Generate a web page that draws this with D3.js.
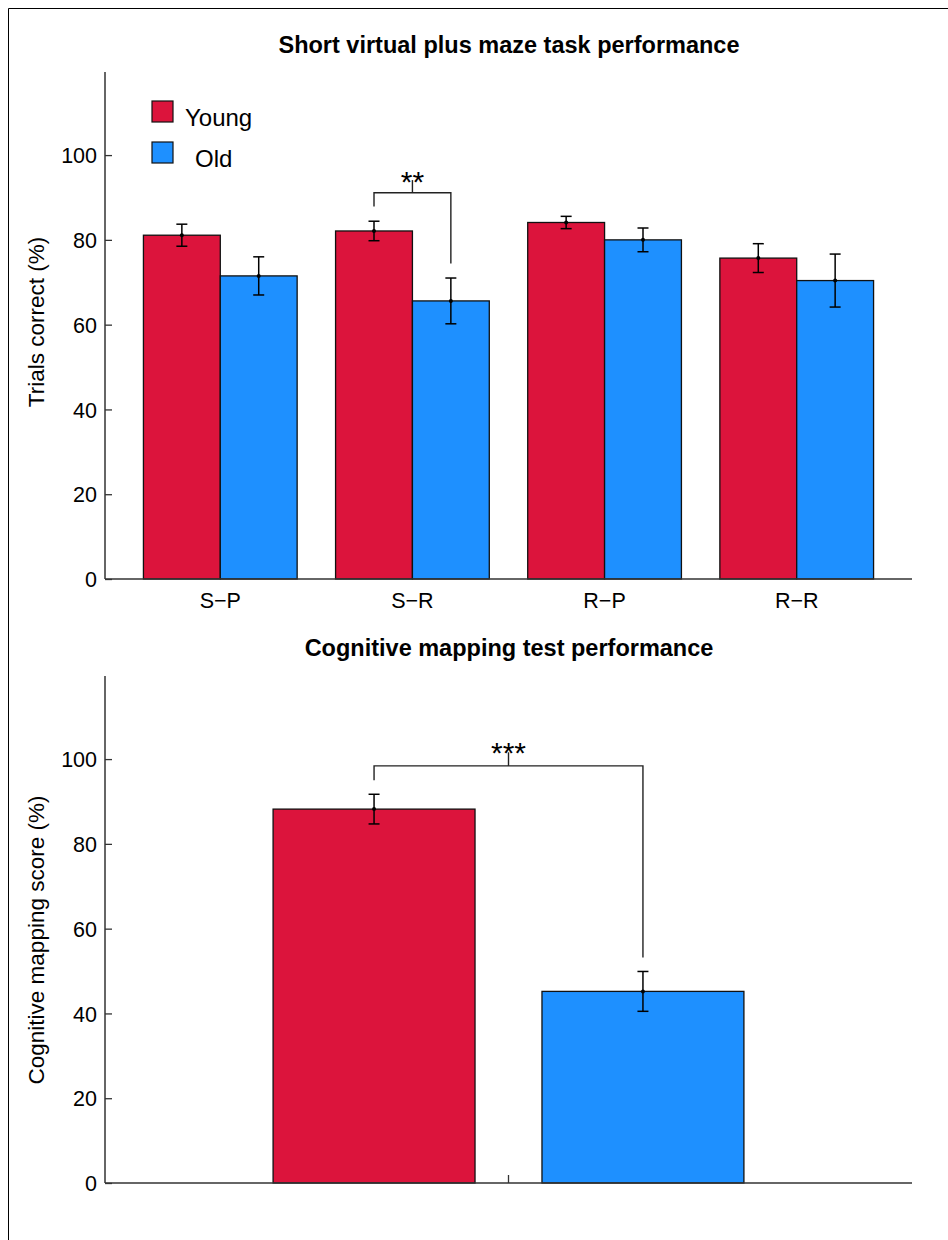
<!DOCTYPE html>
<html><head><meta charset="utf-8">
<script src="https://cdn.jsdelivr.net/npm/d3@7"></script>
<style>body{margin:0;background:#fff;}svg{display:block;font-family:"Liberation Sans",Arial,sans-serif;}</style>
</head><body>
<script>
// Data
const categories = ["S\u2212P", "S\u2212R", "R\u2212P", "R\u2212R"];
const groups = ["Young", "Old"];
const youngMeans = [81.1, 82.1, 84.1, 75.7];
const youngErr = [2.6, 2.3, 1.45, 3.4];
const oldMeans = [71.5, 65.6, 80.0, 70.4];
const oldErr = [4.5, 5.4, 2.8, 6.25];
const cogMeans = [88.2, 45.2];
const cogErr = [3.5, 4.7];
const yTicks = [0, 20, 40, 60, 80, 100];
const colors = {Young: "#DC143C", Old: "#1E90FF"};

const W = 948, H = 1240;
const svg = d3.select("body").append("svg").attr("width", W).attr("height", H);

// frame
svg.append("path").attr("d", `M8.5,${H} V8.5 H${W}`).attr("fill","none").attr("stroke","#000").attr("stroke-width",1);

function yAxis(g, y, x0) {
  const ax = g.append("g").attr("transform", `translate(${x0},0)`)
    .call(d3.axisRight(y).tickValues(yTicks).tickSize(7).tickFormat(""));
  ax.select(".domain").remove();
  ax.selectAll("line").attr("stroke","#333").attr("stroke-width",1.3);
  g.append("line").attr("x1",x0).attr("x2",x0).attr("y1",y.range()[1]).attr("y2",y.range()[0])
    .attr("stroke","#333").attr("stroke-width",1.5);
  g.selectAll(".ytl").data(yTicks).enter().append("text")
    .attr("x", x0-8).attr("y", d=>y(d)).attr("dy","0.38em").attr("text-anchor","end")
    .attr("font-size",21.5).text(d=>d);
}

function errBar(g, x, y, m, e) {
  g.append("line").attr("x1",x).attr("x2",x).attr("y1",y(m+e)).attr("y2",y(m-e)).attr("stroke","#000").attr("stroke-width",1.5);
  [m+e, m-e].forEach(v=>g.append("line").attr("x1",x-5.5).attr("x2",x+5.5).attr("y1",y(v)).attr("y2",y(v)).attr("stroke","#000").attr("stroke-width",1.5));
  g.append("circle").attr("cx",x).attr("cy",y(m)).attr("r",2).attr("fill","#000");
}

// ---------- Top chart ----------
const gTop = svg.append("g");
const yT = d3.scaleLinear().domain([0, 119.6]).range([579, 72]);
const x0T = d3.scaleBand().domain(categories).range([105, 912]).paddingInner(0.2).paddingOuter(0.2);
const x1T = d3.scaleBand().domain(groups).range([0, x0T.bandwidth()]);

gTop.append("text").attr("x", 509).attr("y", 53).attr("text-anchor","middle")
  .attr("font-size",23.5).attr("font-weight","bold").text("Short virtual plus maze task performance");

const dataT = categories.map((c,i)=>({c, vals:[
  {g:"Young", m:youngMeans[i], e:youngErr[i]},
  {g:"Old", m:oldMeans[i], e:oldErr[i]}]}));

dataT.forEach(d=>{
  d.vals.forEach(v=>{
    const x = x0T(d.c) + x1T(v.g);
    gTop.append("rect").attr("x",x).attr("y",yT(v.m)).attr("width",x1T.bandwidth()).attr("height",yT(0)-yT(v.m))
      .attr("fill",colors[v.g]).attr("stroke","#111").attr("stroke-width",1.3);
  });
});
dataT.forEach(d=>{
  d.vals.forEach(v=>{
    const cx = x0T(d.c) + x1T(v.g) + x1T.bandwidth()/2;
    errBar(gTop, cx, yT, v.m, v.e);
  });
});
// x axis
gTop.append("line").attr("x1",105).attr("x2",912).attr("y1",yT(0)).attr("y2",yT(0)).attr("stroke","#333").attr("stroke-width",1.5);
gTop.selectAll(".xtl").data(categories).enter().append("text")
  .attr("x", d=>x0T(d)+x0T.bandwidth()/2).attr("y", 608).attr("text-anchor","middle").attr("font-size",21.5).text(d=>d);
yAxis(gTop, yT, 105);
gTop.append("text").attr("transform","translate(44,322) rotate(-90)").attr("text-anchor","middle").attr("font-size",22.5).text("Trials correct (%)");

// significance bracket S-R
{
  const xa = x0T(categories[1]) + x1T("Young") + x1T.bandwidth()/2;
  const xb = x0T(categories[1]) + x1T("Old") + x1T.bandwidth()/2;
  const yb = yT(91.1);
  gTop.append("path").attr("d",`M${xa},${yT(87.9)} V${yb} H${xb} V${yT(74.4)}`).attr("fill","none").attr("stroke","#222").attr("stroke-width",1.4);
  gTop.append("line").attr("x1",(xa+xb)/2).attr("x2",(xa+xb)/2).attr("y1",yb).attr("y2",yT(94.1)).attr("stroke","#222").attr("stroke-width",1.4);
  gTop.append("text").attr("x",(xa+xb)/2).attr("y",yT(94.1)+12).attr("text-anchor","middle").attr("font-size",30).text("**");
}

// legend
groups.forEach((g,i)=>{
  gTop.append("rect").attr("x",152).attr("y",101+i*41).attr("width",21).attr("height",21).attr("fill",colors[g]).attr("stroke","#111").attr("stroke-width",1.2);
  gTop.append("text").attr("x", i===0?185:195).attr("y",126+i*41).attr("font-size",24).text(g);
});

// ---------- Bottom chart ----------
const gBot = svg.append("g");
const yB = d3.scaleLinear().domain([0, 119.6]).range([1183, 676]);
const x0B = d3.scaleBand().domain([""]).range([105, 912]).paddingInner(0).paddingOuter(0.357);
const x1B = d3.scaleBand().domain(groups).range([0, x0B.bandwidth()]).paddingInner(0.249).paddingOuter(0);

gBot.append("text").attr("x", 509).attr("y", 656).attr("text-anchor","middle")
  .attr("font-size",23.5).attr("font-weight","bold").text("Cognitive mapping test performance");

groups.forEach((g,i)=>{
  gBot.append("rect").attr("x",x0B("")+x1B(g)).attr("y",yB(cogMeans[i])).attr("width",x1B.bandwidth()).attr("height",yB(0)-yB(cogMeans[i]))
    .attr("fill",colors[g]).attr("stroke","#111").attr("stroke-width",1.3);
});
groups.forEach((g,i)=>{
  errBar(gBot, x0B("")+x1B(g)+x1B.bandwidth()/2, yB, cogMeans[i], cogErr[i]);
});
gBot.append("line").attr("x1",105).attr("x2",912).attr("y1",yB(0)).attr("y2",yB(0)).attr("stroke","#333").attr("stroke-width",1.5);
{
  const xc = x0B("") + x0B.bandwidth()/2;
  gBot.append("line").attr("x1",xc).attr("x2",xc).attr("y1",yB(0)).attr("y2",yB(0)-8).attr("stroke","#333").attr("stroke-width",1.3);
}
yAxis(gBot, yB, 105);
gBot.append("text").attr("transform","translate(44,940) rotate(-90)").attr("text-anchor","middle").attr("font-size",22.5).text("Cognitive mapping score (%)");
{
  const xa = x0B("")+x1B("Young")+x1B.bandwidth()/2;
  const xb = x0B("")+x1B("Old")+x1B.bandwidth()/2;
  const yb = yB(98.4);
  gBot.append("path").attr("d",`M${xa},${yB(95.0)} V${yb} H${xb} V${yB(53.2)}`).attr("fill","none").attr("stroke","#222").attr("stroke-width",1.4);
  gBot.append("line").attr("x1",(xa+xb)/2).attr("x2",(xa+xb)/2).attr("y1",yb).attr("y2",yB(101.6)).attr("stroke","#222").attr("stroke-width",1.4);
  gBot.append("text").attr("x",(xa+xb)/2).attr("y",yB(101.6)+11).attr("text-anchor","middle").attr("font-size",30).text("***");
}
</script>
</body></html>
